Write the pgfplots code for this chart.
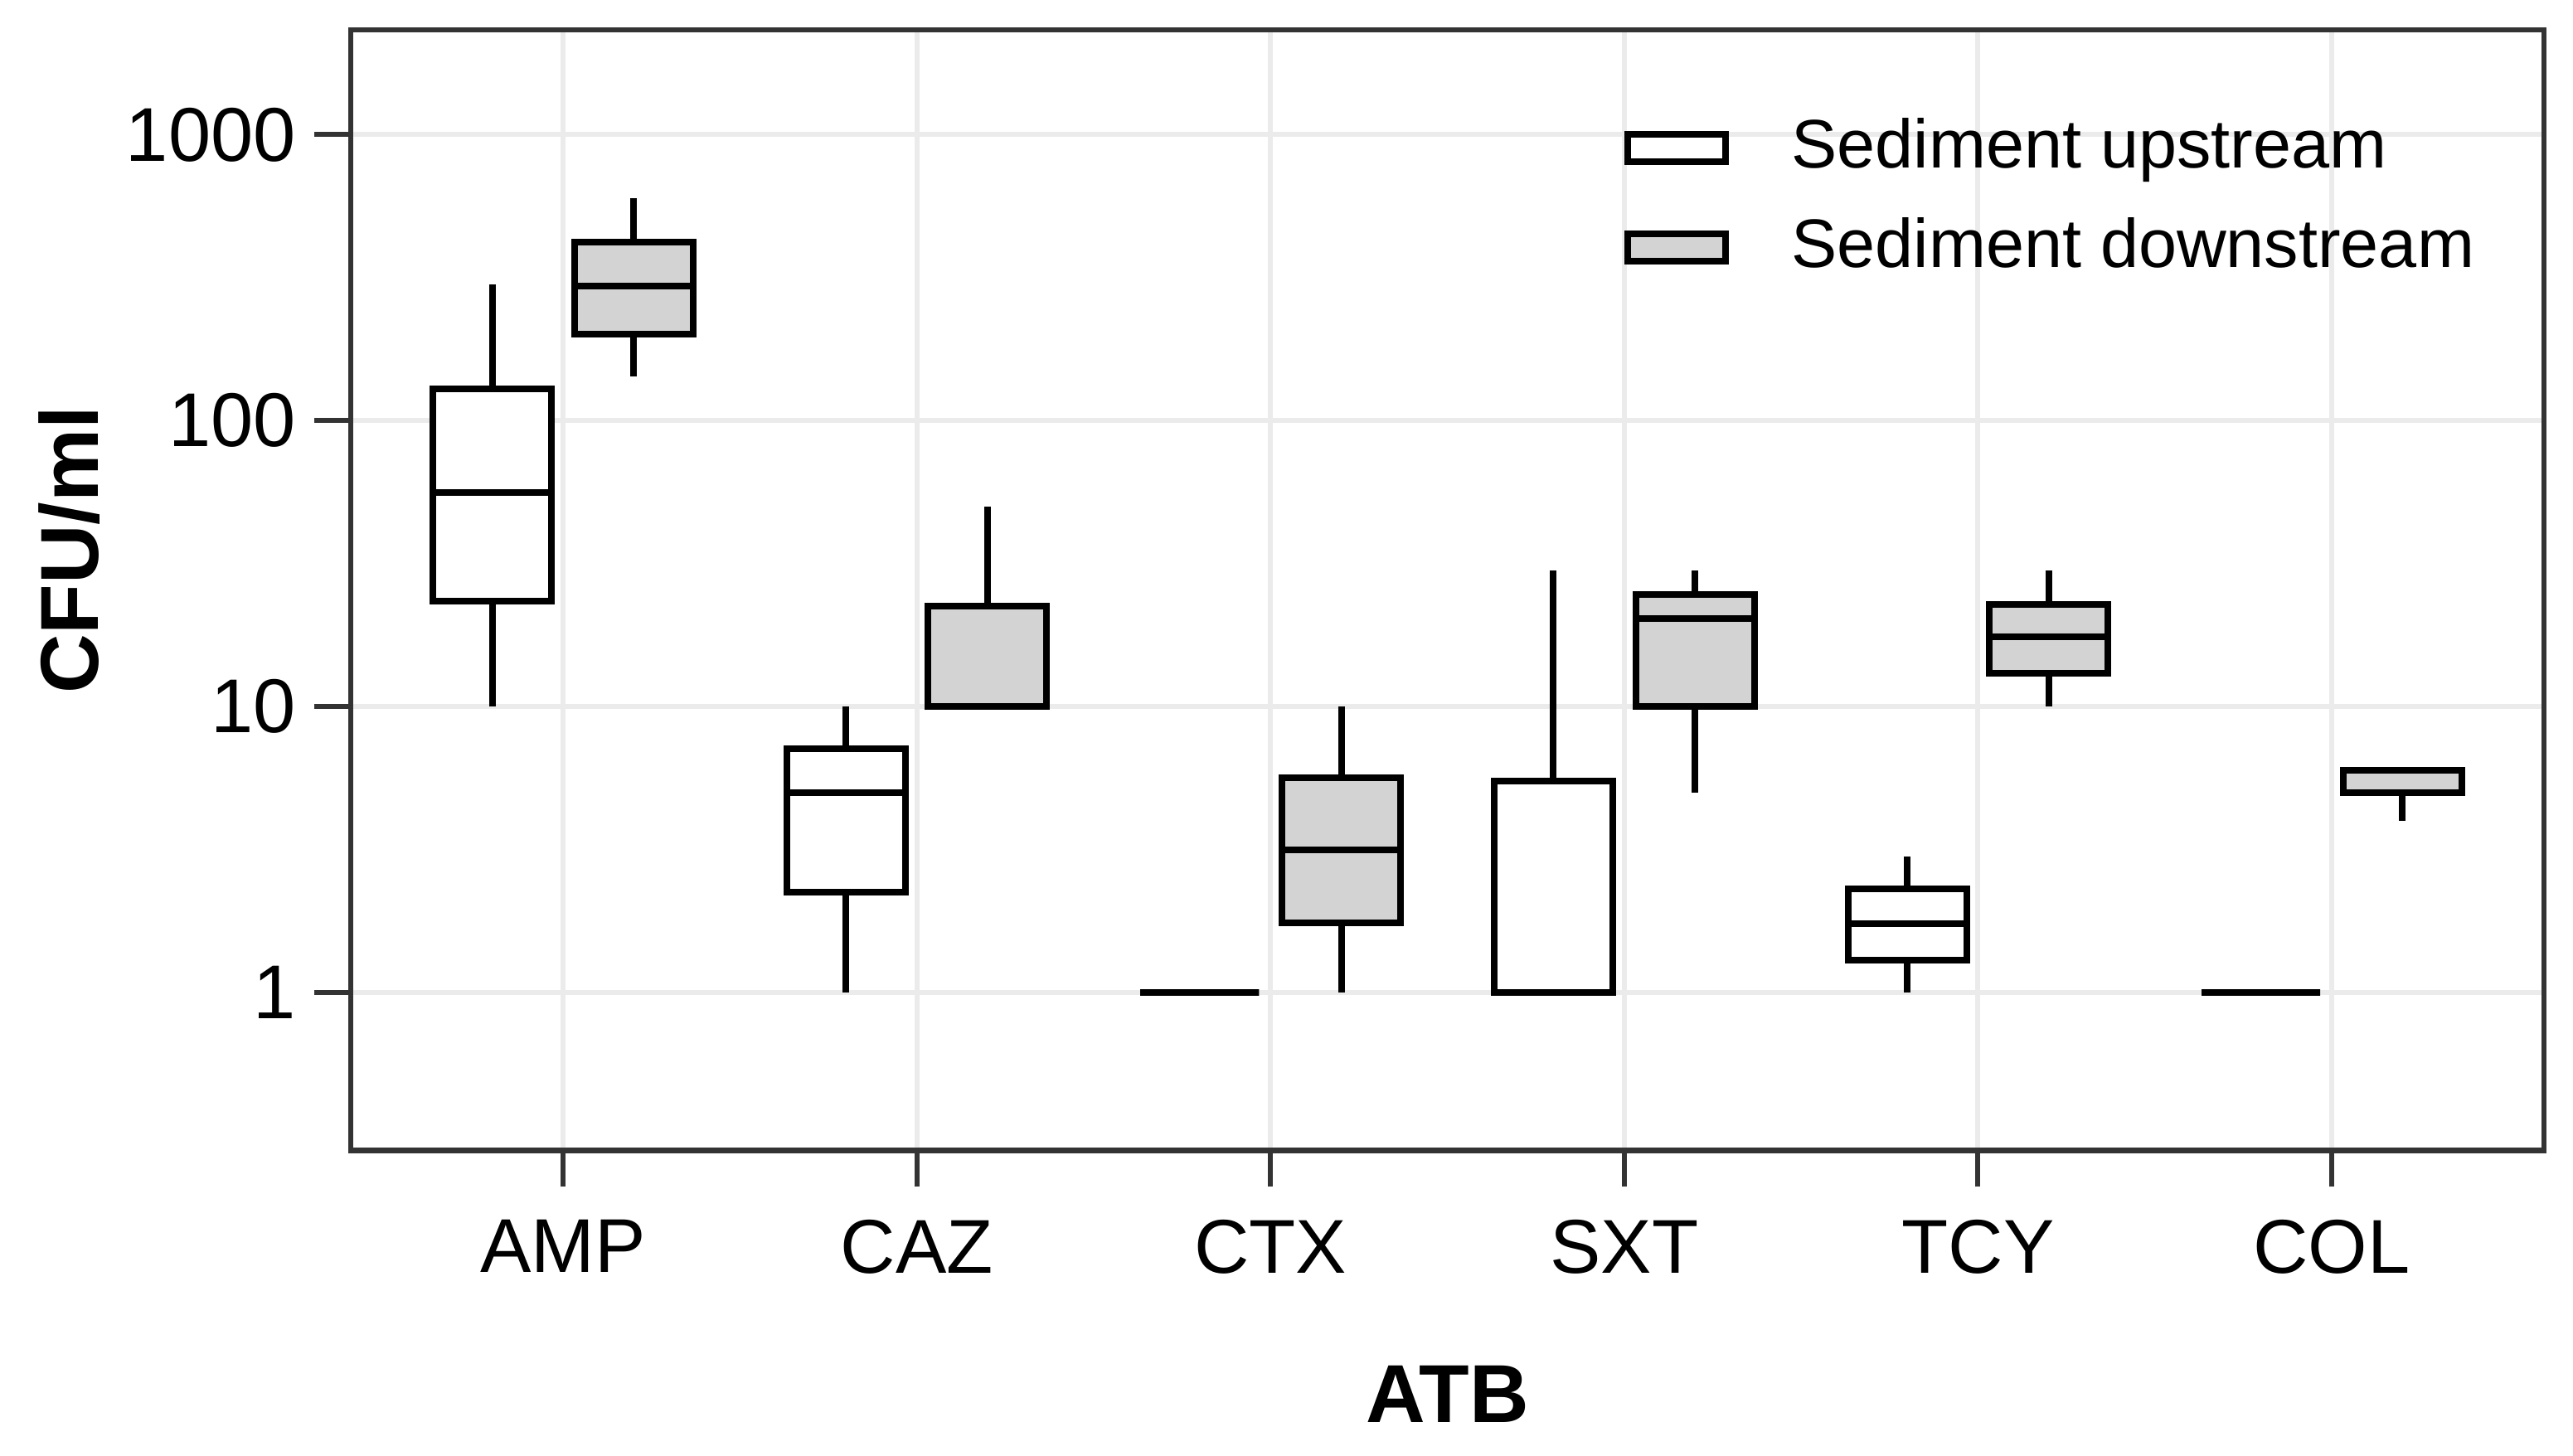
\documentclass[border=0pt]{standalone}
\usepackage{fontspec}
\setmainfont{Liberation Sans}
\usepackage{pgfplots}
\pgfplotsset{compat=1.18}
\definecolor{bordercol}{HTML}{333333}
\definecolor{gridcol}{HTML}{EBEBEB}
\definecolor{boxgray}{HTML}{D3D3D3}
\pgfplotsset{
  up/.style={forget plot, draw=black, fill=white, line width=2pt, solid, mark=none, line join=miter},
  down/.style={forget plot, draw=black, fill=boxgray, line width=2pt, solid, mark=none, line join=miter},
}
% #1 style, #2 position, #3 lower whisker, #4 lower quartile, #5 median, #6 upper quartile, #7 upper whisker
\newcommand{\bx}[7]{%
  \pgfmathsetmacro\xl{#2-0.1675}\pgfmathsetmacro\xr{#2+0.1675}%
  \edef\tmp{%
  \noexpand\addplot[#1, fill=none] coordinates {(#2,#6) (#2,#7)};
  \noexpand\addplot[#1, fill=none] coordinates {(#2,#3) (#2,#4)};
  \noexpand\addplot[#1] coordinates {(\xl,#4) (\xr,#4) (\xr,#6) (\xl,#6)} -- cycle;
  \noexpand\addplot[#1, fill=none] coordinates {(\xl,#5) (\xr,#5)};
  }\tmp}
\begin{document}
\begin{tikzpicture}
\path[use as bounding box] (-105.75pt,-91.9pt) rectangle (670pt,346.85pt);
\begin{axis}[
  scale only axis, width=661.25pt, height=337.9pt,
  xmin=0.4, xmax=6.6,
  ymode=log, ymin=0.281, ymax=2328,
  xtick={1,2,3,4,5,6}, xticklabels={AMP,CAZ,CTX,SXT,TCY,COL},
  ytick={1,10,100,1000}, yticklabels={1,10,100,1000},
  yminorticks=false, xminorticks=false,
  tick pos=left, tick align=outside,
  major tick length=11pt,
  tick style={line width=1.5pt, draw=bordercol},
  axis line style={line width=1.6pt, draw=bordercol},
  grid=major, major grid style={line width=1.5pt, draw=gridcol},
  ticklabel style={font=\fontsize{23}{27}\selectfont, text=black},
  xticklabel style={anchor=north, inner sep=0pt, yshift=-9.7pt},
  yticklabel style={anchor=east, inner sep=0pt, xshift=-5.4pt},
  xlabel={ATB}, ylabel={CFU/ml},
  label style={font=\bfseries\fontsize{24.8}{29}\selectfont},
  xlabel style={at={(axis description cs:0.5,0)}, anchor=north, inner sep=0pt, yshift=-64.8pt},
  ylabel style={at={(axis description cs:-0.1285,0.5357)}, anchor=center, inner sep=0pt},
  legend style={at={(axis description cs:0.5804,0.9213)}, anchor=north west, draw=none, fill=none,
    inner sep=0pt, row sep=10pt, column sep=18.75pt, font=\fontsize{20.7}{25}\selectfont,
    nodes={inner sep=0pt, text height=15pt, text depth=5pt}},
  legend cell align=left,
]
\addlegendimage{legend image code/.code={\draw[draw=black, fill=white, line width=2pt] (0pt,-3.02pt) rectangle (29.6pt,5.23pt);}}
\addlegendentry{Sediment upstream}
\addlegendimage{legend image code/.code={\draw[draw=black, fill=boxgray, line width=2pt] (0pt,-3.02pt) rectangle (29.6pt,5.23pt);}}
\addlegendentry{Sediment downstream}

% AMP
\bx{up}{0.8}{10}{23.4}{56}{129}{300}
\bx{down}{1.2}{143}{201}{295}{421}{600}
% CAZ
\bx{up}{1.8}{1}{2.24}{5}{7.14}{10}
\bx{down}{2.2}{10}{10}{10}{22.5}{50}
% CTX
\bx{up}{2.8}{1}{1}{1}{1}{1}
\bx{down}{3.2}{1}{1.76}{3.15}{5.63}{10}
% SXT
\bx{up}{3.8}{1}{1}{1}{5.5}{30}
\bx{down}{4.2}{5}{10}{20.3}{24.7}{30}
% TCY
\bx{up}{4.8}{1}{1.30}{1.74}{2.30}{3}
\bx{down}{5.2}{10}{13.1}{17.5}{22.8}{30}
% COL
\bx{up}{5.8}{1}{1}{1}{1}{1}
\bx{down}{6.2}{4}{5}{6}{6}{6}
\end{axis}
\end{tikzpicture}
\end{document}
